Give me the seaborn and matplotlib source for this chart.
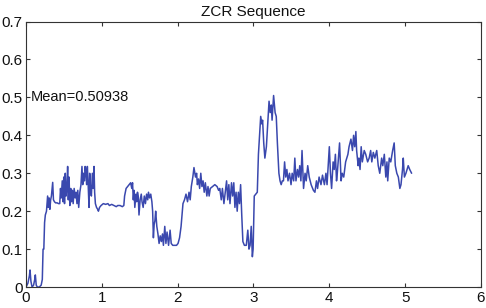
import numpy as np
import pandas as pd
import seaborn as sns
from matplotlib import pyplot as plt

# ZCR values (time in s)
time = [
    0.000, 0.025, 0.045, 0.053, 0.065, 0.080, 0.100, 0.115, 0.123, 0.135,
    0.150, 0.175, 0.200, 0.215, 0.225, 0.235, 0.245, 0.255, 0.270, 0.285,
    0.295, 0.305, 0.315, 0.325, 0.335, 0.345, 0.352, 0.362, 0.375, 0.390,
    0.410, 0.430, 0.445, 0.455, 0.465, 0.478, 0.488, 0.498, 0.508, 0.518,
    0.528, 0.540, 0.549, 0.558, 0.568, 0.578, 0.590, 0.600, 0.612, 0.622,
    0.635, 0.648, 0.660, 0.672, 0.683, 0.695, 0.710, 0.725, 0.738, 0.748,
    0.758, 0.770, 0.780, 0.790, 0.800, 0.809, 0.818, 0.831, 0.840, 0.850,
    0.862, 0.875, 0.887, 0.897, 0.905, 0.915, 0.930, 0.945, 0.955, 0.970,
    0.990, 1.020, 1.050, 1.080, 1.100, 1.130, 1.160, 1.190, 1.210, 1.240,
    1.270, 1.290, 1.300, 1.320, 1.340, 1.360, 1.380, 1.395, 1.405, 1.415,
    1.425, 1.435, 1.450, 1.460, 1.470, 1.480, 1.490, 1.505, 1.520, 1.530,
    1.545, 1.560, 1.575, 1.590, 1.605, 1.615, 1.630, 1.645, 1.660, 1.670,
    1.680, 1.690, 1.700, 1.710, 1.725, 1.740, 1.755, 1.770, 1.785, 1.800,
    1.812, 1.830, 1.845, 1.860, 1.880, 1.900, 1.915, 1.935, 1.960, 1.985,
    2.005, 2.025, 2.045, 2.070, 2.090, 2.110, 2.130, 2.150, 2.165, 2.180,
    2.200, 2.215, 2.235, 2.250, 2.260, 2.275, 2.290, 2.305, 2.320, 2.335,
    2.350, 2.365, 2.385, 2.400, 2.415, 2.430, 2.460, 2.490, 2.520, 2.540,
    2.555, 2.575, 2.590, 2.610, 2.630, 2.645, 2.660, 2.675, 2.690, 2.710,
    2.725, 2.740, 2.755, 2.770, 2.785, 2.800, 2.815, 2.830, 2.845, 2.860,
    2.880, 2.905, 2.925, 2.940, 2.955, 2.970, 2.985, 2.995, 3.010, 3.030,
    3.050, 3.065, 3.080, 3.095, 3.110, 3.120, 3.135, 3.150, 3.170, 3.185,
    3.205, 3.220, 3.235, 3.245, 3.265, 3.285, 3.300, 3.315, 3.335, 3.350,
    3.365, 3.380, 3.395, 3.410, 3.425, 3.440, 3.455, 3.475, 3.495, 3.510,
    3.530, 3.545, 3.560, 3.580, 3.595, 3.610, 3.625, 3.640, 3.660, 3.680,
    3.695, 3.715, 3.735, 3.760, 3.790, 3.810, 3.830, 3.845, 3.865, 3.890,
    3.910, 3.935, 3.955, 3.970, 4.000, 4.015, 4.030, 4.050, 4.065, 4.080,
    4.095, 4.105, 4.120, 4.135, 4.155, 4.170, 4.190, 4.215, 4.245, 4.260,
    4.285, 4.305, 4.320, 4.335, 4.350, 4.360, 4.380, 4.390, 4.405, 4.420,
    4.435, 4.460, 4.480, 4.505, 4.525, 4.545, 4.560, 4.580, 4.600, 4.625,
    4.645, 4.665, 4.690, 4.705, 4.725, 4.745, 4.760, 4.770, 4.790, 4.810,
    4.835, 4.855, 4.870, 4.890, 4.910, 4.930, 4.945, 4.965, 4.975, 4.990,
    5.010, 5.040, 5.060, 5.085,
]
zcr = [
    0.000, 0.010, 0.030, 0.045, 0.015, 0.000, 0.005, 0.020, 0.032, 0.005,
    0.000, 0.000, 0.005, 0.020, 0.100, 0.100, 0.170, 0.190, 0.200, 0.240,
    0.210, 0.235, 0.205, 0.230, 0.240, 0.260, 0.276, 0.230, 0.225, 0.222,
    0.222, 0.220, 0.220, 0.260, 0.235, 0.280, 0.225, 0.290, 0.220, 0.300,
    0.240, 0.265, 0.318, 0.230, 0.290, 0.215, 0.260, 0.225, 0.255, 0.220,
    0.260, 0.235, 0.250, 0.220, 0.255, 0.210, 0.250, 0.270, 0.318, 0.270,
    0.300, 0.280, 0.318, 0.300, 0.270, 0.318, 0.280, 0.210, 0.300, 0.260,
    0.240, 0.300, 0.260, 0.318, 0.250, 0.220, 0.210, 0.205, 0.200, 0.210,
    0.215, 0.220, 0.218, 0.220, 0.215, 0.218, 0.215, 0.212, 0.215, 0.215,
    0.212, 0.215, 0.240, 0.260, 0.265, 0.270, 0.275, 0.260, 0.275, 0.230,
    0.255, 0.210, 0.245, 0.225, 0.250, 0.240, 0.190, 0.230, 0.245, 0.225,
    0.210, 0.240, 0.220, 0.245, 0.230, 0.250, 0.235, 0.245, 0.225, 0.200,
    0.130, 0.165, 0.175, 0.200, 0.160, 0.140, 0.115, 0.135, 0.120, 0.140,
    0.110, 0.160, 0.115, 0.145, 0.110, 0.150, 0.115, 0.110, 0.110, 0.110,
    0.115, 0.130, 0.160, 0.220, 0.230, 0.245, 0.225, 0.250, 0.230, 0.265,
    0.290, 0.315, 0.290, 0.300, 0.270, 0.285, 0.260, 0.300, 0.265, 0.280,
    0.250, 0.275, 0.240, 0.265, 0.240, 0.260, 0.265, 0.270, 0.265, 0.255,
    0.260, 0.230, 0.260, 0.220, 0.255, 0.280, 0.230, 0.270, 0.220, 0.275,
    0.240, 0.275, 0.210, 0.250, 0.200, 0.250, 0.220, 0.270, 0.190, 0.120,
    0.110, 0.110, 0.150, 0.100, 0.110, 0.160, 0.080, 0.100, 0.240, 0.245,
    0.250, 0.350, 0.400, 0.450, 0.430, 0.440, 0.380, 0.340, 0.370, 0.420,
    0.490, 0.460, 0.480, 0.440, 0.505, 0.460, 0.450, 0.380, 0.300, 0.280,
    0.270, 0.280, 0.280, 0.330, 0.290, 0.310, 0.280, 0.300, 0.270, 0.300,
    0.280, 0.340, 0.280, 0.310, 0.290, 0.320, 0.280, 0.360, 0.260, 0.300,
    0.280, 0.320, 0.290, 0.270, 0.255, 0.250, 0.280, 0.260, 0.290, 0.270,
    0.295, 0.270, 0.300, 0.270, 0.370, 0.300, 0.260, 0.330, 0.310, 0.350,
    0.280, 0.300, 0.340, 0.380, 0.280, 0.300, 0.290, 0.330, 0.350, 0.370,
    0.390, 0.360, 0.400, 0.370, 0.410, 0.360, 0.320, 0.340, 0.310, 0.370,
    0.330, 0.360, 0.350, 0.330, 0.340, 0.360, 0.330, 0.355, 0.340, 0.360,
    0.320, 0.300, 0.340, 0.320, 0.350, 0.290, 0.330, 0.280, 0.340, 0.330,
    0.360, 0.380, 0.320, 0.300, 0.290, 0.260, 0.270, 0.310, 0.340, 0.290,
    0.300, 0.320, 0.310, 0.300,
]
mean_label = "Mean=0.50938"
x_ticks = [0, 1, 2, 3, 4, 5, 6]
y_ticks = [0, 0.1, 0.2, 0.3, 0.4, 0.5, 0.6, 0.7]


def main():
    sns.set_style("ticks")
    plt.rcParams["font.family"] = ["Liberation Sans", "DejaVu Sans"]
    plt.rcParams["xtick.direction"] = "in"
    plt.rcParams["ytick.direction"] = "in"

    df = pd.DataFrame({"Time": time, "ZCR": zcr})

    fig = plt.figure(figsize=(4.86, 3.08), dpi=100)
    ax = fig.add_axes([0.0535, 0.068, 0.9362, 0.862])
    sns.lineplot(data=df, x="Time", y="ZCR", ax=ax, color="#3a48ae",
                 linewidth=1.1, estimator=None, sort=False)

    ax.set_xlim(0, 6)
    ax.set_ylim(0, 0.7)
    ax.set_xticks(x_ticks)
    ax.set_yticks(y_ticks)
    ax.set_xticklabels([str(t) for t in x_ticks])
    ax.set_yticklabels(["0" if t == 0 else str(t) for t in y_ticks])
    ax.tick_params(axis="both", labelsize=11, length=3, width=0.8,
                   color="#333333", labelcolor="#111111",
                   top=True, right=True, pad=2.5)
    for s in ax.spines.values():
        s.set_visible(True)
        s.set_color("#333333")
        s.set_linewidth(0.8)
    ax.set_xlabel("")
    ax.set_ylabel("")
    ax.set_title("ZCR Sequence", fontsize=11, pad=4, color="#111111")
    ax.text(0.06, 0.5, mean_label, fontsize=10.5, va="center", ha="left",
            color="#111111")

    fig.savefig("out.png", dpi=100)


if __name__ == "__main__":
    main()
